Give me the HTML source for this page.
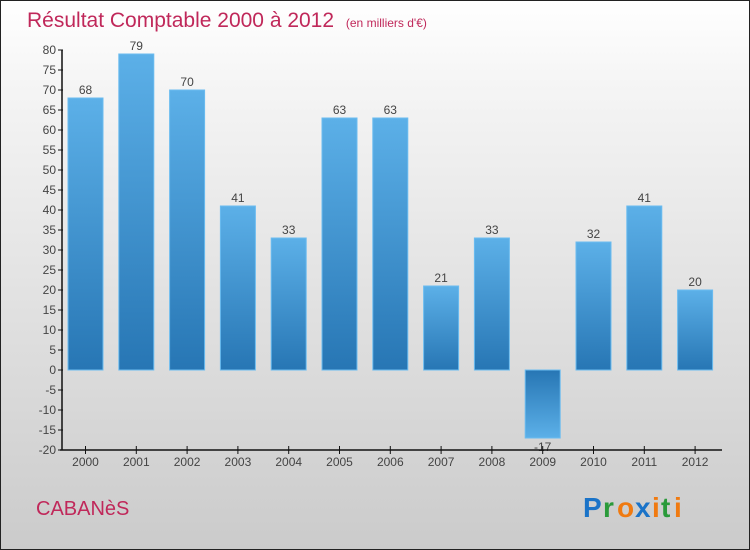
<!DOCTYPE html>
<html><head><meta charset="utf-8"><style>
html,body{margin:0;padding:0}
body{width:750px;height:550px;overflow:hidden;font-family:"Liberation Sans",sans-serif}
#wrap{position:absolute;left:0;top:0;width:748px;height:548px;border:1px solid #222;background:linear-gradient(#ffffff,#f5f5f5 15%,#cbcbcb)}
</style></head><body>
<div id="wrap">
<svg width="750" height="550" viewBox="0 0 750 550" style="position:absolute;left:-1px;top:-1px">
<defs>
<linearGradient id="gp" x1="0" y1="0" x2="0" y2="1"><stop offset="0" stop-color="#5cb0e8"/><stop offset="1" stop-color="#2776b4"/></linearGradient>
<linearGradient id="gn" x1="0" y1="0" x2="0" y2="1"><stop offset="0" stop-color="#2776b4"/><stop offset="1" stop-color="#5cb0e8"/></linearGradient>
</defs>
<text x="27" y="27" font-size="21" fill="#c0285a">Résultat Comptable 2000 à 2012 <tspan font-size="12" dx="6">(en milliers d'€)</tspan></text>
<g id="yaxis"></g>
<g id="bars"></g>
<g id="xaxis"></g>
<text x="36" y="515" font-size="20" fill="#c0285a">CABANèS</text>
<g font-size="28" font-weight="bold" font-family="Liberation Sans, sans-serif">
<text x="583" y="517" fill="#1a73c8">P</text><text x="603" y="517" fill="#2a9a3a">r</text><text x="617" y="517" fill="#f07a10">o</text><text x="635" y="517" fill="#1a73c8">x</text><text x="652" y="517" fill="#f07a10">i</text><text x="661" y="517" fill="#2a9a3a">t</text><text x="674" y="517" fill="#f07a10">i</text>
</g>
</svg>
</div>
<script>
const categories=["2000","2001","2002","2003","2004","2005","2006","2007","2008","2009","2010","2011","2012"];
const values=[68,79,70,41,33,63,63,21,33,-17,32,41,20];
const yTicks=[80,75,70,65,60,55,50,45,40,35,30,25,20,15,10,5,0,-5,-10,-15,-20];
const NS="http://www.w3.org/2000/svg";
function y(v){return 370-v*4;}
function x(i){return 85.5+i*50.8;}
function mk(tag,attrs,parent){const e=document.createElementNS(NS,tag);for(const k in attrs)e.setAttribute(k,attrs[k]);parent.appendChild(e);return e;}
const ya=document.getElementById('yaxis'),xa=document.getElementById('xaxis'),bg=document.getElementById('bars');
const yl=mk('line',{x1:62,y1:y(80),x2:62,y2:y(-20),stroke:'#111','stroke-width':1.5},ya);


yTicks.forEach(t=>{
  const l=mk('line',{x1:58,y1:y(t),x2:63,y2:y(t),stroke:'#111'},ya);
  
  
  const tx=mk('text',{x:56,y:y(t)+4,'font-size':12,fill:'#444','text-anchor':'end'},ya);
  tx.textContent=t;
  
  
});
const xl=mk('line',{x1:60,y1:y(-20),x2:722,y2:y(-20),stroke:'#111','stroke-width':1.5},xa);


categories.forEach((c,i)=>{
  const l=mk('line',{x1:x(i),y1:y(-20)-4,x2:x(i),y2:y(-20)+4,stroke:'#111'},xa);
  
  
  const tx=mk('text',{x:x(i),y:y(-20)+16,'font-size':12,fill:'#444','text-anchor':'middle'},xa);
  tx.textContent=c;
  
  
  const v=values[i];
  const top=Math.min(y(v),y(0)),h=Math.abs(y(v)-y(0));
  const r=mk('rect',{x:x(i)-17.5,y:top,width:35,height:h,fill:v>=0?'url(#gp)':'url(#gn)',stroke:'#6bbcf0','stroke-width':1},bg);
  
  
  const lb=mk('text',{x:x(i),y:v>=0?y(v)-4:y(v)+13,'font-size':12,fill:'#444','text-anchor':'middle'},bg);
  lb.textContent=v;
  
  
});
</script>
</body></html>
